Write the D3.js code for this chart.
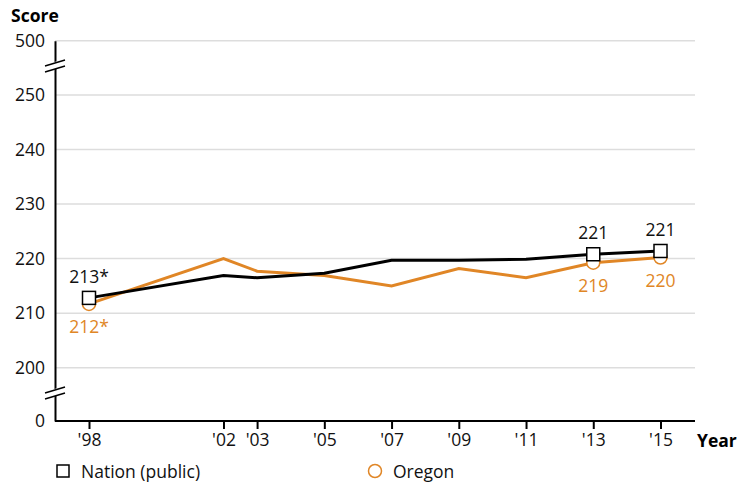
<!DOCTYPE html>
<html>
<head>
<meta charset="utf-8">
<script src="https://cdn.jsdelivr.net/npm/d3@7"></script>
<style>
  body { margin: 0; background: #fff; }
  text { font-family: "Open Sans", sans-serif; }
</style>
</head>
<body>
<svg width="748" height="484"></svg>
<script>
const years = [1998, 2002, 2003, 2005, 2007, 2009, 2011, 2013, 2015];
const nation = [212.8, 216.9, 216.5, 217.3, 219.7, 219.7, 219.9, 220.8, 221.4];
const oregon = [211.7, 220.0, 217.7, 216.9, 215.0, 218.2, 216.5, 219.25, 220.2];
const yTicks = [0, 200, 210, 220, 230, 240, 250, 500];

// labelled points: index, text
const nationLabels = [{ i: 0, t: "213*" }, { i: 7, t: "221" }, { i: 8, t: "221" }];
const oregonLabels = [{ i: 0, t: "212*" }, { i: 7, t: "219" }, { i: 8, t: "220" }];

const orange = "#e08626";
const fs = 17.5;
const svg = d3.select("svg");

const x = d3.scaleLinear().domain([1998, 2015]).range([89, 660.5]);
// broken axis: 0 | 200-250 | 500
const y = d3.scaleLinear().domain([0, 200, 250, 500]).range([421, 367.7, 95, 40.7]);

const left = 55, right = 695;

// gridlines
svg.append("g")
  .selectAll("line")
  .data(yTicks.filter(d => d > 0))
  .enter().append("line")
  .attr("x1", left).attr("x2", right)
  .attr("y1", d => y(d)).attr("y2", d => y(d))
  .attr("stroke", "#dddddd").attr("stroke-width", 1.5);

// y axis
const yAxis = svg.append("g")
  .attr("transform", `translate(${left},0)`)
  .call(d3.axisLeft(y).tickValues(yTicks).tickSize(0).tickPadding(10));
yAxis.select(".domain").attr("stroke", "#000").attr("stroke-width", 2);
yAxis.selectAll("text").attr("font-size", fs).attr("fill", "#111");

// x axis
const xAxis = svg.append("g")
  .attr("transform", "translate(0,421)")
  .call(d3.axisBottom(x).tickValues(years).tickSize(8).tickPadding(5)
    .tickFormat(d => "'" + String(d).slice(2)));
xAxis.select(".domain").attr("d", `M${left},0H${right}`).attr("stroke", "#000").attr("stroke-width", 2);
xAxis.selectAll(".tick line").attr("stroke", "#000").attr("stroke-width", 2);
xAxis.selectAll("text").attr("font-size", fs).attr("fill", "#111");

// axis breaks
[66, 393].forEach(by => {
  const g = svg.append("g");
  g.append("rect").attr("x", left - 8).attr("y", by - 4).attr("width", 16).attr("height", 7)
    .attr("fill", "#fff").attr("transform", `rotate(-15,${left},${by})`);
  [-3, 3].forEach(o => {
    g.append("line")
      .attr("x1", left - 10).attr("x2", left + 10)
      .attr("y1", by + o + 3).attr("y2", by + o - 3)
      .attr("stroke", "#000").attr("stroke-width", 1.5);
  });
});

// titles
svg.append("text").attr("x", 11).attr("y", 22).attr("font-size", fs).attr("font-weight", 700)
  .attr("fill", "#000").text("Score");
svg.append("text").attr("x", 697).attr("y", 447).attr("font-size", fs).attr("font-weight", 700)
  .attr("fill", "#000").text("Year");

const line = d3.line().x((d, i) => x(years[i])).y(d => y(d));

// Oregon
svg.append("path").datum(oregon).attr("d", line)
  .attr("fill", "none").attr("stroke", orange).attr("stroke-width", 3);
svg.append("g").selectAll("circle")
  .data(oregonLabels).enter().append("circle")
  .attr("cx", d => x(years[d.i])).attr("cy", d => y(oregon[d.i])).attr("r", 6.5)
  .attr("fill", "#fff").attr("stroke", orange).attr("stroke-width", 1.5);

// Nation
svg.append("path").datum(nation).attr("d", line)
  .attr("fill", "none").attr("stroke", "#000").attr("stroke-width", 3);
svg.append("g").selectAll("rect")
  .data(nationLabels).enter().append("rect")
  .attr("x", d => x(years[d.i]) - 6.5).attr("y", d => y(nation[d.i]) - 6.5)
  .attr("width", 13).attr("height", 13)
  .attr("fill", "#fff").attr("stroke", "#000").attr("stroke-width", 1.5);

// value labels
svg.append("g").selectAll("text")
  .data(nationLabels).enter().append("text")
  .attr("x", d => x(years[d.i])).attr("y", d => y(nation[d.i]) - 15)
  .attr("text-anchor", "middle").attr("font-size", fs).attr("fill", "#111")
  .text(d => d.t);
svg.append("g").selectAll("text")
  .data(oregonLabels).enter().append("text")
  .attr("x", d => x(years[d.i])).attr("y", d => y(oregon[d.i]) + 29)
  .attr("text-anchor", "middle").attr("font-size", fs).attr("fill", orange)
  .text(d => d.t);

// legend
svg.append("rect").attr("x", 57).attr("y", 465).attr("width", 12).attr("height", 12)
  .attr("fill", "#fff").attr("stroke", "#000").attr("stroke-width", 1.5);
svg.append("text").attr("x", 81).attr("y", 478).attr("font-size", fs).attr("fill", "#111")
  .text("Nation (public)");
svg.append("circle").attr("cx", 375).attr("cy", 471).attr("r", 6.5)
  .attr("fill", "#fff").attr("stroke", orange).attr("stroke-width", 1.5);
svg.append("text").attr("x", 393).attr("y", 478).attr("font-size", fs).attr("fill", "#111")
  .text("Oregon");
</script>
</body>
</html>
